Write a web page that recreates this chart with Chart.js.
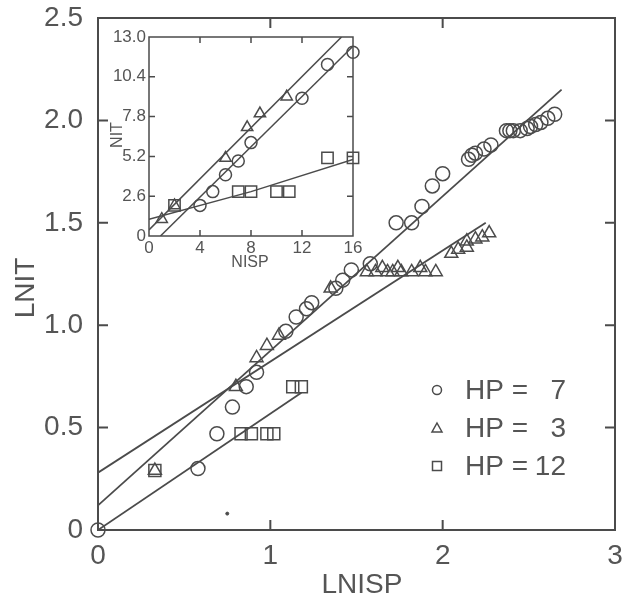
<!DOCTYPE html>
<html>
<head>
<meta charset="utf-8">
<script src="https://cdn.jsdelivr.net/npm/chart.js@4.4.1/dist/chart.umd.min.js"></script>
<style>
  html, body { margin: 0; padding: 0; background: #fff; }
  #wrap { position: relative; width: 625px; height: 605px; }
  #mainChart { position: absolute; left: 0; top: 0; }
  #insetChart { position: absolute; left: 100px; top: 25px; }
</style>
</head>
<body>
<div id="wrap">
  <canvas id="mainChart" width="625" height="605"></canvas>
  <canvas id="insetChart" width="265" height="250"></canvas>
</div>
<script>
// main plot: log-log (LNISP vs LNIT)
const mainXTicks = [0, 1, 2, 3];
const mainYTicks = [0, 0.5, 1.0, 1.5, 2.0, 2.5];

const hp7X = [0, 0.58, 0.69, 0.78, 0.86, 0.92, 1.09, 1.15, 1.21, 1.24, 1.38, 1.42, 1.47, 1.58, 1.73, 1.82, 1.88, 1.94, 2.00, 2.15, 2.17, 2.19, 2.24, 2.28, 2.37, 2.39, 2.41, 2.45, 2.49, 2.51, 2.54, 2.57, 2.61, 2.65];
const hp7Y = [0, 0.30, 0.47, 0.60, 0.70, 0.77, 0.97, 1.04, 1.08, 1.11, 1.18, 1.22, 1.27, 1.30, 1.50, 1.50, 1.58, 1.68, 1.74, 1.81, 1.83, 1.84, 1.86, 1.88, 1.95, 1.95, 1.95, 1.95, 1.96, 1.97, 1.98, 1.99, 2.01, 2.03];

const hp3X = [0.33, 0.80, 0.92, 0.98, 1.05, 1.35, 1.56, 1.61, 1.65, 1.68, 1.71, 1.74, 1.76, 1.82, 1.87, 1.90, 1.96, 2.05, 2.09, 2.14, 2.14, 2.19, 2.23, 2.27];
const hp3Y = [0.29, 0.70, 0.84, 0.90, 0.95, 1.18, 1.26, 1.26, 1.28, 1.26, 1.26, 1.28, 1.26, 1.26, 1.28, 1.26, 1.26, 1.35, 1.37, 1.41, 1.38, 1.42, 1.43, 1.45];

const hp12X = [0.33, 0.83, 0.89, 0.98, 1.02, 1.13, 1.18];
const hp12Y = [0.29, 0.47, 0.47, 0.47, 0.47, 0.70, 0.70];

const fit7X = [0, 2.69], fit7Y = [0.12, 2.15];
const fit3X = [0, 2.25], fit3Y = [0.28, 1.50];
const fit12X = [0, 1.18], fit12Y = [0, 0.67];

const speckX = [0.75], speckY = [0.08];

// inset: raw counts (NISP vs NIT)
const insetXTicks = [0, 4, 8, 12, 16];
const insetYTicks = [0, 2.6, 5.2, 7.8, 10.4, 13.0];

const in7X = [4, 5, 6, 7, 8, 12, 14, 16];
const in7Y = [2.0, 2.9, 4.0, 4.9, 6.1, 9.0, 11.2, 12.0];
const in3X = [1, 2, 6, 7.7, 8.7, 10.8];
const in3Y = [1.1, 2.0, 5.1, 7.1, 8.0, 9.1];
const in12X = [2, 7, 8, 10, 11, 14, 16];
const in12Y = [2.0, 2.9, 2.9, 2.9, 2.9, 5.1, 5.1];

const fitIn7X = [0.9, 16], fitIn7Y = [0, 12.4];
const fitIn3X = [0, 15.1], fitIn3Y = [0.4, 13.0];
const fitIn12X = [0, 8, 16], fitIn12Y = [1.1, 2.9, 5.0];

const legendLabels = ['HP =', 'HP =', 'HP ='];
const legendValues = ['7', '3', '12'];
const legendStyles = ['circle', 'triangle', 'rect'];

const ink = '#4b4b4b';
const textInk = '#555';
const family = '"Liberation Sans", Arial, Helvetica, sans-serif';

const pts = (xs, ys) => xs.map((x, i) => ({ x: x, y: ys[i] }));

function markers(xs, ys, style, r) {
  return {
    data: pts(xs, ys), pointStyle: style, pointRadius: r,
    borderColor: ink, backgroundColor: 'rgba(0,0,0,0)', pointBorderWidth: 1.5,
    showLine: false, clip: false
  };
}
function fitLine(xs, ys, w) {
  return {
    data: pts(xs, ys), showLine: true, pointRadius: 0,
    borderColor: ink, borderWidth: w, fill: false
  };
}

// stop chart.js from adding room for overhanging tick labels
const noOverhang = s => { s.paddingTop = 0; s.paddingBottom = 0; s.paddingLeft = 0; s.paddingRight = 0; };

// box + inward tick marks on all four sides
const framePlugin = {
  id: 'frame',
  afterDraw(chart, args, opts) {
    const { ctx, chartArea: a, scales: { x, y } } = chart;
    ctx.save();
    ctx.strokeStyle = ink;
    ctx.lineWidth = opts.width;
    ctx.strokeRect(a.left, a.top, a.right - a.left, a.bottom - a.top);
    ctx.beginPath();
    x.ticks.forEach(t => {
      if (t.value <= x.min || t.value >= x.max) return;
      const p = x.getPixelForValue(t.value);
      ctx.moveTo(p, a.bottom); ctx.lineTo(p, a.bottom - opts.len);
      ctx.moveTo(p, a.top); ctx.lineTo(p, a.top + opts.len);
    });
    y.ticks.forEach(t => {
      if (t.value <= y.min || t.value >= y.max) return;
      const p = y.getPixelForValue(t.value);
      ctx.moveTo(a.left, p); ctx.lineTo(a.left + opts.len, p);
      ctx.moveTo(a.right, p); ctx.lineTo(a.right - opts.len, p);
    });
    ctx.stroke();
    ctx.restore();
  }
};

const titlePlugin = {
  id: 'axisTitles',
  afterDraw(chart, args, opts) {
    const ctx = chart.ctx;
    ctx.save();
    ctx.fillStyle = textInk;
    ctx.font = opts.size + 'px ' + family;
    ctx.textAlign = 'center';
    ctx.textBaseline = 'middle';
    ctx.fillText(opts.xText, opts.xPos[0], opts.xPos[1]);
    ctx.translate(opts.yPos[0], opts.yPos[1]);
    ctx.rotate(-Math.PI / 2);
    ctx.fillText(opts.yText, 0, 0);
    ctx.restore();
  }
};

const legendPlugin = {
  id: 'hpLegend',
  afterDraw(chart) {
    const ctx = chart.ctx;
    const rows = [390, 428, 466];
    ctx.save();
    ctx.strokeStyle = ink;
    ctx.lineWidth = 1.5;
    ctx.fillStyle = textInk;
    ctx.font = '28px ' + family;
    ctx.textBaseline = 'middle';
    rows.forEach((cy, i) => {
      const cx = 437;
      ctx.beginPath();
      if (legendStyles[i] === 'circle') {
        ctx.arc(cx, cy, 4.5, 0, Math.PI * 2);
      } else if (legendStyles[i] === 'triangle') {
        ctx.moveTo(cx, cy - 5); ctx.lineTo(cx + 5, cy + 4); ctx.lineTo(cx - 5, cy + 4); ctx.closePath();
      } else {
        ctx.rect(cx - 4.5, cy - 4.5, 9, 9);
      }
      ctx.stroke();
      ctx.textAlign = 'left';
      ctx.fillText(legendLabels[i], 465, cy + 1);
      ctx.textAlign = 'right';
      ctx.fillText(legendValues[i], 566, cy + 1);
    });
    ctx.restore();
  }
};

new Chart(document.getElementById('mainChart'), {
  type: 'scatter',
  data: {
    datasets: [
      fitLine(fit7X, fit7Y, 1.8),
      fitLine(fit3X, fit3Y, 1.8),
      fitLine(fit12X, fit12Y, 1.8),
      markers(hp7X, hp7Y, 'circle', 7),
      markers(hp3X, hp3Y, 'triangle', 7.5),
      markers(hp12X, hp12Y, 'rect', 8.5),
      { data: pts(speckX, speckY), pointRadius: 1.5, backgroundColor: ink, borderColor: ink, showLine: false }
    ]
  },
  options: {
    responsive: false,
    animation: false,
    events: [],
    layout: { padding: { top: 18, right: 8, left: 0, bottom: 0 } },
    plugins: {
      legend: { display: false },
      tooltip: { enabled: false },
      frame: { width: 2, len: 10 },
      axisTitles: { size: 28, xText: 'LNISP', xPos: [362, 585], yText: 'LNIT', yPos: [26, 288] }
    },
    scales: {
      x: {
        type: 'linear', min: 0, max: 3,
        afterBuildTicks: s => { s.ticks = mainXTicks.map(v => ({ value: v })); },
        afterFit: s => { s.height = 75; noOverhang(s); },
        grid: { display: false, drawTicks: false },
        border: { display: false },
        ticks: { padding: 9, color: textInk, font: { size: 28, family: family }, callback: v => String(v) }
      },
      y: {
        type: 'linear', min: 0, max: 2.5,
        afterBuildTicks: s => { s.ticks = mainYTicks.map(v => ({ value: v })); },
        afterFit: s => { s.width = 98; noOverhang(s); },
        grid: { display: false, drawTicks: false },
        border: { display: false },
        ticks: { padding: 15, color: textInk, font: { size: 28, family: family }, callback: v => v === 0 ? '0' : v.toFixed(1) }
      }
    }
  },
  plugins: [framePlugin, titlePlugin, legendPlugin]
});

new Chart(document.getElementById('insetChart'), {
  type: 'scatter',
  data: {
    datasets: [
      fitLine(fitIn7X, fitIn7Y, 1.5),
      fitLine(fitIn3X, fitIn3Y, 1.5),
      fitLine(fitIn12X, fitIn12Y, 1.5),
      markers(in7X, in7Y, 'circle', 6),
      markers(in3X, in3Y, 'triangle', 6.5),
      markers(in12X, in12Y, 'rect', 8)
    ]
  },
  options: {
    responsive: false,
    animation: false,
    events: [],
    layout: { padding: { top: 12, right: 12, left: 0, bottom: 0 } },
    plugins: {
      legend: { display: false },
      tooltip: { enabled: false },
      frame: { width: 1.5, len: 6 },
      axisTitles: { size: 16, xText: 'NISP', xPos: [150, 238], yText: 'NIT', yPos: [18, 110] }
    },
    scales: {
      x: {
        type: 'linear', min: 0, max: 16,
        afterBuildTicks: s => { s.ticks = insetXTicks.map(v => ({ value: v })); },
        afterFit: s => { s.height = 39; noOverhang(s); },
        grid: { display: false, drawTicks: false },
        border: { display: false },
        ticks: { padding: 2, color: textInk, font: { size: 17, family: family }, callback: v => String(v) }
      },
      y: {
        type: 'linear', min: 0, max: 13,
        afterBuildTicks: s => { s.ticks = insetYTicks.map(v => ({ value: v })); },
        afterFit: s => { s.width = 49; noOverhang(s); },
        grid: { display: false, drawTicks: false },
        border: { display: false },
        ticks: { padding: 3, color: textInk, font: { size: 17, family: family }, callback: v => v === 0 ? '0' : v.toFixed(1) }
      }
    }
  },
  plugins: [framePlugin, titlePlugin]
});
</script>
</body>
</html>
